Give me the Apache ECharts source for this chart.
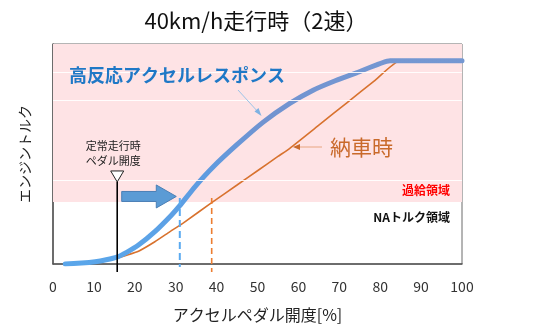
<!DOCTYPE html>
<html>
<head>
<meta charset="utf-8">
<script src="https://cdn.jsdelivr.net/npm/echarts@6/dist/echarts.min.js"></script>
<style>
html,body{margin:0;padding:0;background:#fff;}
#chart{width:546px;height:336px;}
</style>
</head>
<body>
<div id="chart"></div>
<script>
// ---- data ----
var titleText = '40km/h走行時（2速）';
var xTicks = [0,10,20,30,40,50,60,70,80,90,100];
var responseSeries = [[3,0],[7,0.4],[10.3,1],[13,1.9],[15.6,3.1],[18,5.3],[20.9,8.6],[24.9,14.7],[29,22.3],[31,26.5],[34.7,35.1],[39.2,44.2],[44.9,54.1],[51.4,64.5],[57.9,73],[63.6,79],[69,83.3],[74.2,86.9],[82.4,92.4],[100,92.4]];
var deliverySeries = [[8,0],[11.5,0.9],[15.6,2.7],[18,4],[20.9,5.8],[24.9,10.1],[28.6,14.7],[31.9,18.7],[38.8,27.9],[45,35.9],[50,42.4],[55,48.9],[57.9,52.6],[65,63.1],[72,73.5],[78.5,83.1],[84.8,92.4],[100,92.4]];
var seriesNames = ['高反応アクセルレスポンス','納車時'];
var boostThreshold = [28.2];
var gridHighlights = [87.3, 74.5, 38.2];
var steadyPedal = [15.7];
var responseMark = [31];
var deliveryMark = [38.8];

var chart = echarts.init(document.getElementById('chart'), null, {renderer:'canvas'});
var font = '"Noto Sans CJK JP","Noto Sans",sans-serif';

var option = {
  animation:false,
  textStyle:{fontFamily:font},
  title:{text:titleText,left:251,top:5,textAlign:'center',textStyle:{fontFamily:font,fontSize:22,fontWeight:'normal',color:'#111'}},
  grid:{left:53,right:84,top:44,bottom:72,show:true,borderColor:'#6b6b6b',borderWidth:1,backgroundColor:'transparent'},
  xAxis:{type:'value',min:0,max:100,interval:10,
    axisLine:{show:true,lineStyle:{color:'#555',width:1.5}},
    axisTick:{show:false},splitLine:{show:false},
    axisLabel:{fontSize:14,color:'#333',margin:16,fontFamily:font},
    name:'アクセルペダル開度[%]',nameLocation:'middle',nameGap:43,
    nameTextStyle:{fontSize:16,color:'#222',fontFamily:font}},
  yAxis:{type:'value',min:0,max:100,
    axisLine:{show:true,lineStyle:{color:'#555',width:1.5}},
    axisTick:{show:false},axisLabel:{show:false},splitLine:{show:false},
    name:'エンジントルク',nameLocation:'middle',nameGap:21,nameRotate:90,
    nameTextStyle:{fontSize:14,color:'#222',fontFamily:font}},
  series:[
    {name:seriesNames[1],type:'line',data:deliverySeries,showSymbol:false,smooth:0.15,z:3,
     lineStyle:{color:'#d8722e',width:1.6},
     markArea:{silent:true,itemStyle:{color:'#fee3e5'},data:[[{yAxis:boostThreshold[0]},{yAxis:100}]]},
     markLine:{silent:true,symbol:'none',label:{show:false},
       lineStyle:{color:'#ffffff',width:1,type:'solid',opacity:0.9},
       data:gridHighlights.map(function(v){return {yAxis:v};})}
    },
    {name:seriesNames[0],type:'line',data:responseSeries,showSymbol:false,smooth:0.15,z:4,
     lineStyle:{width:5,cap:'round',join:'round',
       color:new echarts.graphic.LinearGradient(0,1,0,0,[{offset:0,color:'#5aa6ea'},{offset:0.45,color:'#5f9be0'},{offset:0.7,color:'#7193d0'},{offset:1,color:'#7497d2'}])}
    }
  ]
};
chart.setOption(option);

function px(x,y){return chart.convertToPixel({gridIndex:0},[x,y]);}
var bottomY = px(0,0)[1];
var boostY = px(0,boostThreshold[0])[1];
var sx = px(steadyPedal[0],0)[0];
var bx = px(responseMark[0],0)[0];
var ox = px(deliveryMark[0],0)[0];

var g = [];
// steady pedal line + triangle
g.push({type:'line',z:10,shape:{x1:sx,y1:boostY-20,x2:sx,y2:bottomY+8},style:{stroke:'#000',lineWidth:1.6}});
g.push({type:'polygon',z:11,shape:{points:[[sx-6.5,boostY-31],[sx+6.5,boostY-31],[sx,boostY-20]]},style:{fill:'#fff',stroke:'#222',lineWidth:1}});
g.push({type:'text',z:11,style:{text:'定常走行時\nペダル開度',x:sx-4,y:boostY-64,textAlign:'center',fontSize:11,lineHeight:15,fill:'#222',fontFamily:font}});
// dashed verticals
g.push({type:'line',z:10,shape:{x1:bx,y1:boostY-4,x2:bx,y2:bottomY+3},style:{stroke:'#5aaaf0',lineWidth:2,lineDash:[7,4]}});
g.push({type:'line',z:10,shape:{x1:ox,y1:boostY-4,x2:ox,y2:bottomY+8},style:{stroke:'#ed7d31',lineWidth:1.6,lineDash:[6,4]}});
// block arrow
var ay = boostY-5.5, ax0 = sx+4.5, ax1 = bx-3.5, ah = ax1-20;
g.push({type:'polygon',z:11,shape:{points:[[ax0,ay-5],[ah,ay-5],[ah,ay-11.5],[ax1,ay],[ah,ay+11.5],[ah,ay+5],[ax0,ay+5]]},style:{fill:'#5b9bd5',stroke:'#4a7fb5',lineWidth:1}});
// response label + pointer
g.push({type:'text',z:11,style:{text:seriesNames[0],x:69,y:75,textVerticalAlign:'middle',fontSize:18,fontWeight:'bold',fill:'#1f78c6',fontFamily:font}});
g.push({type:'line',z:11,shape:{x1:238,y1:90,x2:259,y2:113},style:{stroke:'#9cc4e8',lineWidth:1}});
g.push({type:'polygon',z:11,shape:{points:[[261.5,116],[254.5,111.5],[258.5,108]]},style:{fill:'#7fb2e2'}});
// delivery label + pointer
g.push({type:'text',z:11,style:{text:seriesNames[1],x:330,y:147,textVerticalAlign:'middle',fontSize:21,fill:'#c96a2b',fontFamily:font}});
g.push({type:'line',z:11,shape:{x1:322,y1:147,x2:298,y2:147},style:{stroke:'#e8a580',lineWidth:1}});
g.push({type:'polygon',z:11,shape:{points:[[293,147],[300,144],[300,150]]},style:{fill:'#c96a2b'}});
// region labels
g.push({type:'text',z:11,style:{text:'過給領域',x:450,y:boostY-12,textAlign:'right',textVerticalAlign:'middle',fontSize:12,fontWeight:'bold',fill:'#ff0000',fontFamily:font}});
g.push({type:'text',z:11,style:{text:'NAトルク領域',x:450,y:boostY+15,textAlign:'right',textVerticalAlign:'middle',fontSize:12,fontWeight:'bold',fill:'#111',fontFamily:font}});

chart.setOption({graphic:{elements:g}});
</script>
</body>
</html>
